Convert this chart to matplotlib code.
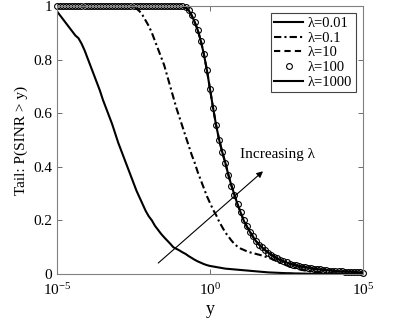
import numpy as np
import matplotlib
matplotlib.use("Agg")
import matplotlib.pyplot as plt

plt.rcParams['font.family'] = ['Liberation Serif', 'DejaVu Serif']
plt.rcParams['mathtext.fontset'] = 'custom'
plt.rcParams['mathtext.rm'] = 'Liberation Serif'
plt.rcParams['mathtext.it'] = 'Liberation Serif:italic'

# threshold grid, 10 points per decade
y_thr = np.logspace(-5, 5, 101)

# tail P(SINR > y)
p_lam001 = [0.98, 0.965, 0.95, 0.935, 0.92, 0.905, 0.89, 0.88, 0.86, 0.835,
            0.805, 0.775, 0.745, 0.715, 0.685, 0.65, 0.62, 0.59, 0.56, 0.525,
            0.49, 0.46, 0.43, 0.40, 0.37, 0.34, 0.31, 0.285, 0.26, 0.235,
            0.215, 0.20, 0.18, 0.165, 0.15, 0.137, 0.125, 0.113, 0.10, 0.094,
            0.088, 0.081, 0.075, 0.067, 0.06, 0.053, 0.047, 0.042, 0.037, 0.033,
            0.03, 0.028, 0.026, 0.024, 0.022, 0.02, 0.019, 0.018, 0.017, 0.016,
            0.015, 0.014, 0.013, 0.012, 0.011, 0.01, 0.009, 0.008, 0.007, 0.006,
            0.0055, 0.005, 0.0045, 0.004, 0.0035, 0.003, 0.003, 0.0025, 0.002, 0.002,
            0.0015, 0.0015, 0.001, 0.001, 0.001, 0.001, 0.0008, 0.0006, 0.0005, 0.0004,
            0.0003, 0.0003, 0.0002, 0.0002, 0.0001, 0.0001, 0.0001, 0.0, 0.0, 0.0, 0.0]

p_lam01 = [1.0] * 24 + [
    0.998, 0.995, 0.99, 0.98, 0.965, 0.945, 0.925, 0.90, 0.87, 0.84,
    0.81, 0.78, 0.74, 0.70, 0.66, 0.62, 0.585, 0.55, 0.515, 0.48,
    0.445, 0.415, 0.38, 0.35, 0.32, 0.29, 0.265, 0.24, 0.22, 0.195,
    0.175, 0.155, 0.14, 0.125, 0.112, 0.102, 0.095, 0.09, 0.085, 0.081,
    0.078, 0.075, 0.072, 0.069, 0.065, 0.061, 0.057, 0.052, 0.047, 0.042,
    0.037, 0.032, 0.028, 0.024, 0.021, 0.018, 0.015, 0.013, 0.011, 0.009,
    0.008, 0.007, 0.006, 0.005, 0.004, 0.0035, 0.003, 0.0025, 0.002, 0.002,
    0.0015, 0.001, 0.001, 0.001, 0.0005, 0.0005, 0.0]

# lambda = 10, 100 and 1000 lie on top of each other
p_large = [1.0] * 41 + [
    0.999, 0.995, 0.985, 0.965, 0.94, 0.91, 0.87, 0.82, 0.76, 0.69,
    0.62, 0.555, 0.50, 0.455, 0.415, 0.37, 0.33, 0.295, 0.26, 0.23,
    0.20, 0.178, 0.158, 0.14, 0.123, 0.11, 0.099, 0.089, 0.08, 0.072,
    0.065, 0.058, 0.052, 0.047, 0.043, 0.039, 0.035, 0.032, 0.029, 0.027,
    0.025, 0.023, 0.021, 0.019, 0.018, 0.017, 0.015, 0.014, 0.013, 0.012,
    0.011, 0.010, 0.0095, 0.009, 0.0085, 0.008, 0.007, 0.0065, 0.006, 0.005]
p_lam10 = p_large
p_lam100 = p_large
p_lam1000 = p_large

labels = ['λ=0.01', 'λ=0.1', 'λ=10', 'λ=100', 'λ=1000']

fig = plt.figure(figsize=(3.95, 3.29), dpi=100)
ax = fig.add_axes([0.1443, 0.1672, 0.7747, 0.8146])

lw = 1.5
ax.plot(y_thr, p_lam001, 'k-', lw=lw, label=labels[0])
ax.plot(y_thr, p_lam01, color='k', ls=(0, (3.5, 1.5, 1, 1.5)), lw=lw, label=labels[1])
ax.plot(y_thr, p_lam10, color='k', ls=(0, (3, 2)), lw=lw, label=labels[2])
ax.plot(y_thr, p_lam100, 'o', color='k', mfc='none', ms=4.2, mew=0.8,
        label=labels[3], clip_on=False)
ax.plot(y_thr, p_lam1000, 'k-', lw=lw, label=labels[4])

ax.set_xscale('log')
ax.set_xlim(1e-5, 1e5)
ax.set_ylim(0, 1)
ax.set_xticks([1e-5, 1e0, 1e5])
ax.set_xticklabels([r'$10^{\mathrm{-}5}$', r'$10^{0}$', r'$10^{5}$'])
ax.xaxis.set_minor_locator(matplotlib.ticker.NullLocator())
ax.set_yticks([0, 0.2, 0.4, 0.6, 0.8, 1])
ax.set_yticklabels(['0', '0.2', '0.4', '0.6', '0.8', '1'])
ax.tick_params(direction='in', top=True, right=True, length=3.5, width=0.6,
               labelsize=11, color='#555555')
ax.tick_params(axis='x', pad=6)
for s in ax.spines.values():
    s.set_color('#808080')
    s.set_linewidth(0.8)

ax.set_xlabel('y', fontsize=13, labelpad=2)
ax.set_ylabel('Tail: P(SINR > y)', fontsize=11, labelpad=4)

ax.annotate('', xy=(10**1.80, 0.39), xytext=(10**-1.76, 0.034),
            arrowprops=dict(arrowstyle='-|>', lw=0.8, color='k', mutation_scale=9))
ax.text(10**0.98, 0.446, 'Increasing λ', fontsize=11, va='center', ha='left')

leg = ax.legend(loc='upper right', fontsize=10.5, labelspacing=0.1, handlelength=2.0,
                handletextpad=0.3, borderpad=0.25, borderaxespad=0.5, fancybox=False,
                framealpha=1)
leg.get_frame().set_edgecolor('#444444')
leg.get_frame().set_linewidth(0.8)

fig.savefig('out.png', dpi=100)
